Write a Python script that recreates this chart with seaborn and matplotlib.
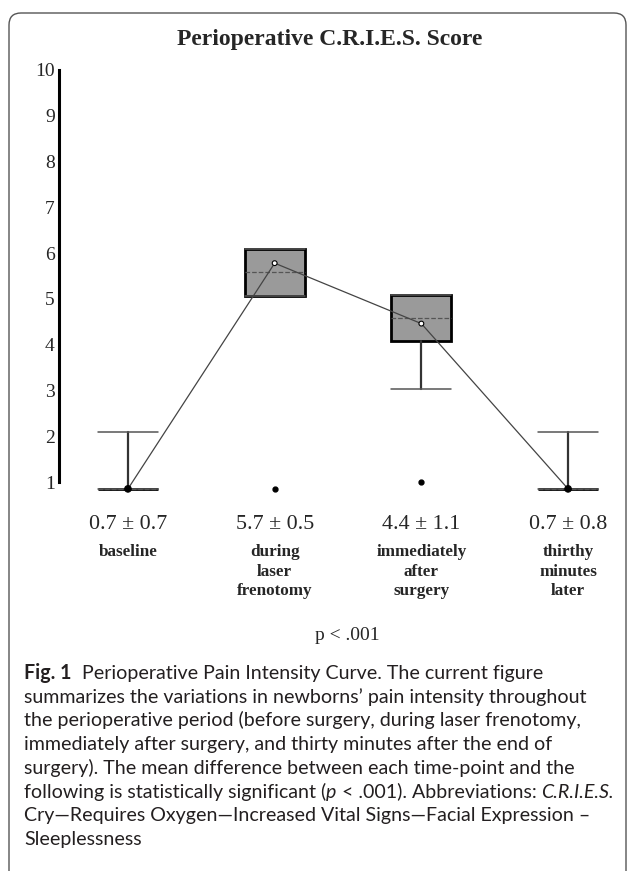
import numpy as np
import pandas as pd
import seaborn as sns
import matplotlib.pyplot as plt
from matplotlib import transforms
from matplotlib.patches import FancyBboxPatch

# values (score axis units)
time_points = ['baseline', 'during\nlaser\nfrenotomy', 'immediately\nafter\nsurgery', 'thirthy\nminutes\nlater']
mean_sd_labels = ['0.7 ± 0.7', '5.7 ± 0.5', '4.4 ± 1.1', '0.7 ± 0.8']
means = [0.85, 5.78, 4.46, 0.85]
q1 = [0.85, 5.07, 4.07, 0.85]
medians = [0.85, 5.59, 4.59, 0.85]
q3 = [0.85, 6.10, 5.09, 0.85]
whisker_low = [0.85, 5.07, 3.04, 0.85]
whisker_high = [2.09, 6.10, 5.09, 2.09]
outliers = [[], [0.85], [1.0], []]
y_ticks = [1, 2, 3, 4, 5, 6, 7, 8, 9, 10]

caption_lines = [
    [('Fig. 1', {'weight': 'bold'}), ('  Perioperative Pain Intensity Curve. The current figure', {})],
    [('summarizes the variations in newborns\u2019 pain intensity throughout', {})],
    [('the perioperative period (before surgery, during laser frenotomy,', {})],
    [('immediately after surgery, and thirty minutes after the end of', {})],
    [('surgery). The mean difference between each time-point and the', {})],
    [('following is statistically significant (', {}), ('p', {'style': 'italic'}),
     (' < .001). Abbreviations: ', {}), ('C.R.I.E.S.', {'style': 'italic'})],
    [('Cry\u2014Requires Oxygen\u2014Increased Vital Signs\u2014Facial Expression \u2013', {})],
    [('Sleeplessness', {})],
]

sns.set_style('white')
plt.rcParams['font.family'] = ['Liberation Serif', 'DejaVu Serif']

W, H = 630, 871
fig = plt.figure(figsize=(W / 100, H / 100), dpi=100)


def fy(px):
    return 1 - px / H


# axes placed so that 1..10 spans pixel rows 482..70
ax = fig.add_axes([59 / W, fy(504.9), (620 - 59) / W, (504.9 - 60.8) / H])

stats = []
for i in range(len(time_points)):
    stats.append(dict(label=time_points[i], q1=q1[i], med=medians[i], q3=q3[i],
                      whislo=whisker_low[i], whishi=whisker_high[i], fliers=outliers[i]))

ax.bxp(stats, positions=range(len(stats)), widths=0.41, capwidths=0.41,
       patch_artist=True, showfliers=True,
       boxprops=dict(facecolor='#9a9a9a', edgecolor='black', linewidth=2.0),
       medianprops=dict(color='#555555', linestyle='--', linewidth=0.9),
       whiskerprops=dict(color='#333333', linewidth=1.6),
       capprops=dict(color='#555555', linewidth=1.1),
       flierprops=dict(marker='o', markerfacecolor='black', markeredgecolor='black', markersize=3.5))

df = pd.DataFrame({'pos': np.arange(len(means)), 'mean': means})
sns.lineplot(data=df, x='pos', y='mean', color='#444444', linewidth=0.9, ax=ax, zorder=4)
ax.scatter(df['pos'], df['mean'], s=[22, 12, 12, 22],
           facecolors=['black', 'white', 'white', 'black'], edgecolors='black',
           linewidths=0.8, zorder=5)

ax.set_xlim(-0.47, 3.354)
ax.set_ylim(0.5, 10.2)
ax.set_yticks(y_ticks)
ax.set_yticklabels([str(t) for t in y_ticks], fontsize=14)
ax.tick_params(axis='y', length=0, pad=3)
ax.set_xticks([])
ax.set_xlabel('')
ax.set_ylabel('')
for side in ['top', 'right', 'bottom']:
    ax.spines[side].set_visible(False)
ax.spines['left'].set_linewidth(2.2)
ax.spines['left'].set_color('black')
ax.spines['left'].set_bounds(1, 10)
ax.patch.set_alpha(0)

# labels under each time point
trans = transforms.blended_transform_factory(ax.transData, fig.transFigure)
for i in range(len(time_points)):
    ax.text(i, fy(528.5), mean_sd_labels[i], transform=trans, ha='center', va='baseline',
            fontsize=15.8)
    ax.text(i, fy(544), time_points[i], transform=trans, ha='center', va='top',
            fontsize=12.3, weight='bold', linespacing=1.3)

fig.text(330 / W, fy(40), 'Perioperative C.R.I.E.S. Score', ha='center', va='center',
         fontsize=17, weight='bold')
fig.text(347 / W, fy(635), 'p < .001', ha='center', va='center', fontsize=14)

# caption
renderer = fig.canvas.get_renderer()
for n, parts in enumerate(caption_lines):
    x = 24
    for txt, style in parts:
        t = fig.text(x / W, fy(679 + n * 23.7), txt, fontsize=14.1, va='baseline',
                     family=['Lato', 'DejaVu Sans'], color='#231f20', **style)
        x += t.get_window_extent(renderer).width

frame = FancyBboxPatch((9, -30), 617, H - 13 + 30, boxstyle='round,pad=0,rounding_size=12',
                       transform=transforms.IdentityTransform(), fill=False,
                       edgecolor='#555555', linewidth=1.0)
fig.patches.append(frame)

fig.savefig('out.png', dpi=100)
